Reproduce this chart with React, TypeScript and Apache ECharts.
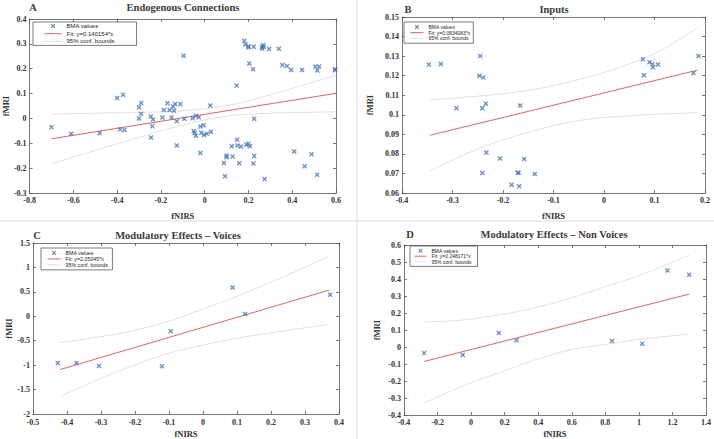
import React, { useEffect, useRef } from 'react';
import * as echarts from 'echarts';

// ---------- Panel A: Endogenous Connections ----------
const pointsA: number[][] = [
  [-0.70, -0.035], [-0.61, -0.062], [-0.48, -0.06], [-0.40, 0.082], [-0.373, 0.095], [-0.387, -0.044],
  [-0.367, -0.047], [-0.30, 0.045], [-0.29, 0.062], [-0.29, 0.019], [-0.30, 0.0], [-0.246, 0.008],
  [-0.236, -0.004], [-0.239, -0.031], [-0.245, -0.077], [-0.193, 0.004], [-0.187, 0.034], [-0.17, 0.061],
  [-0.16, 0.034], [-0.144, 0.048], [-0.14, 0.031], [-0.135, 0.058], [-0.151, 0.004], [-0.127, -0.011],
  [-0.111, 0.058], [-0.127, -0.109], [-0.096, 0.252], [-0.093, -0.001], [-0.055, 0.001], [-0.04, 0.011],
  [-0.027, 0.005], [-0.046, -0.059], [-0.04, -0.07], [-0.05, -0.051], [-0.02, -0.032], [-0.005, -0.027],
  [-0.02, -0.139], [-0.015, -0.058], [-0.003, -0.067], [0.01, -0.062], [0.029, -0.054], [0.026, 0.052],
  [0.088, -0.179], [0.093, -0.233], [0.10, -0.149], [0.10, -0.156], [0.124, -0.112], [0.128, -0.153],
  [0.146, 0.132], [0.148, -0.086], [0.15, -0.109], [0.166, -0.113], [0.158, -0.18], [0.181, 0.312],
  [0.186, 0.297], [0.20, 0.285], [0.20, 0.29], [0.224, 0.288], [0.19, -0.106], [0.20, -0.102],
  [0.207, -0.112], [0.204, 0.221], [0.221, 0.198], [0.226, -0.151], [0.223, -0.181], [0.226, -0.001],
  [0.262, 0.287], [0.263, 0.28], [0.267, 0.295], [0.27, 0.288], [0.274, -0.244], [0.294, 0.279],
  [0.339, 0.28], [0.355, 0.215], [0.376, 0.211], [0.395, 0.195], [0.409, -0.133], [0.445, 0.195],
  [0.457, -0.192], [0.488, -0.144], [0.506, 0.209], [0.515, 0.193], [0.523, 0.209], [0.514, -0.227],
  [0.596, 0.198], [0.596, 0.194],
];
const fitA: number[][] = [[-0.70, -0.082], [0.60, 0.101]];
const upperA: number[][] = [[-0.70, 0.018], [-0.5, 0.021], [-0.3, 0.024], [-0.1, 0.031], [0.1, 0.051], [0.3, 0.095], [0.5, 0.147], [0.6, 0.173]];
const lowerA: number[][] = [[-0.70, -0.182], [-0.5, -0.129], [-0.3, -0.076], [-0.1, -0.027], [0.1, 0.009], [0.3, 0.021], [0.5, 0.025], [0.6, 0.027]];

// ---------- Panel B: Inputs ----------
const pointsB: number[][] = [
  [-0.347, 0.1257], [-0.323, 0.126], [-0.292, 0.1033], [-0.245, 0.1301], [-0.247, 0.1199], [-0.239, 0.119],
  [-0.241, 0.1033], [-0.234, 0.1056], [-0.241, 0.0702], [-0.233, 0.0807], [-0.206, 0.0777], [-0.166, 0.1048],
  [-0.183, 0.0642], [-0.171, 0.0704], [-0.169, 0.0704], [-0.168, 0.0635], [-0.158, 0.0774], [-0.137, 0.0697],
  [0.077, 0.1284], [0.079, 0.1202], [0.09, 0.1269], [0.096, 0.1259], [0.097, 0.1243], [0.107, 0.1257],
  [0.177, 0.1214], [0.187, 0.1301],
];
const fitB: number[][] = [[-0.345, 0.0895], [0.185, 0.1228]];
const upperB: number[][] = [[-0.345, 0.1077], [-0.25, 0.1095], [-0.15, 0.1125], [-0.05, 0.118], [0.05, 0.126], [0.12, 0.134], [0.185, 0.1445]];
const lowerB: number[][] = [[-0.345, 0.0712], [-0.25, 0.0825], [-0.15, 0.091], [-0.05, 0.097], [0.05, 0.0995], [0.12, 0.1005], [0.185, 0.101]];

// ---------- Panel C: Modulatory Effects – Voices ----------
const pointsC: number[][] = [
  [-0.427, -0.955], [-0.372, -0.955], [-0.306, -1.015], [-0.121, -1.021], [-0.095, -0.307],
  [0.087, 0.587], [0.124, 0.047], [0.374, 0.441],
];
const fitC: number[][] = [[-0.42, -1.09], [0.37, 0.534]];
const upperC: number[][] = [[-0.42, -0.54], [-0.3, -0.415], [-0.2, -0.284], [-0.1, -0.1], [0, 0.15], [0.1, 0.41], [0.2, 0.7], [0.3, 1.003], [0.37, 1.23]];
const lowerC: number[][] = [[-0.42, -1.64], [-0.3, -1.273], [-0.2, -0.994], [-0.1, -0.756], [0, -0.59], [0.1, -0.45], [0.2, -0.34], [0.3, -0.235], [0.37, -0.17]];

// ---------- Panel D: Modulatory Effects – Non Voices ----------
const pointsD: number[][] = [
  [-0.28, -0.036], [-0.05, -0.047], [0.165, 0.083], [0.27, 0.04], [0.84, 0.036], [1.02, 0.019], [1.17, 0.45], [1.30, 0.425],
];
const fitD: number[][] = [[-0.28, -0.085], [1.30, 0.311]];
const upperD: number[][] = [[-0.28, 0.148], [-0.1, 0.155], [0, 0.165], [0.2, 0.195], [0.4, 0.235], [0.6, 0.29], [0.8, 0.355], [1.0, 0.42], [1.3, 0.54]];
const lowerD: number[][] = [[-0.28, -0.33], [-0.1, -0.25], [0, -0.21], [0.2, -0.14], [0.4, -0.07], [0.6, -0.015], [0.8, 0.015], [1.0, 0.045], [1.3, 0.075]];

const titles = ['Endogenous Connections', 'Inputs', 'Modulatory Effects \u2013 Voices', 'Modulatory Effects \u2013 Non Voices'];
const letters = ['A', 'B', 'C', 'D'];
const fitLabels = ['Fit: y=0.140154*x', 'Fit: y=0.0634083*x', 'Fit: y=2.05045*x', 'Fit: y=0.248171*x'];
const xName = 'fNIRS';
const yName = 'fMRI';
const pointsName = 'BMA values';
const boundsName = '95% conf. bounds';

const SERIF = '"Liberation Serif", "Times New Roman", serif';
const SANS = '"Liberation Sans", Arial, sans-serif';
const X_SYMBOL = 'path://M0,0L2.2,0L5,2.8L7.8,0L10,0L10,2.2L7.2,5L10,7.8L10,10L7.8,10L5,7.2L2.2,10L0,10L0,7.8L2.8,5L0,2.2Z';
const BLUE = '#4877bd';
const RED = '#e06464';
const BOUND = '#e6dede';
const AXIS = '#555';

const panels = [
  {
    points: pointsA, fit: fitA, upper: upperA, lower: lowerA,
    grid: { left: 29, top: 19, width: 307, height: 174 },
    x: { min: -0.8, max: 0.6, interval: 0.2 }, y: { min: -0.3, max: 0.4, interval: 0.1 },
    xGap: 18, yGap: 15, xMargin: 3,
    titlePos: [183, 7], letterPos: [33, 7],
    legend: { left: 33, top: 22, padding: [1, 22, 1, 11], itemWidth: 17, itemGap: 1.7, fontSize: 6, lh: 6 },
  },
  {
    points: pointsB, fit: fitB, upper: upperB, lower: lowerB,
    grid: { left: 402, top: 17, width: 303, height: 176 },
    x: { min: -0.4, max: 0.2, interval: 0.1 }, y: { min: 0.06, max: 0.15, interval: 0.01 },
    xGap: 18, yGap: 28, xMargin: 3,
    titlePos: [554, 9], letterPos: [408, 9],
    legend: { left: 404, top: 22, padding: [2.5, 3, 2.5, 6], itemWidth: 13, itemGap: 0.6, fontSize: 5, lh: 5 },
  },
  {
    points: pointsC, fit: fitC, upper: upperC, lower: lowerC,
    grid: { left: 33, top: 243, width: 306, height: 176 },
    x: { min: -0.5, max: 0.4, interval: 0.1 }, y: { min: -2, max: 1.5, interval: 0.5 },
    xGap: 15, yGap: 18, xMargin: 4,
    titlePos: [178, 235], letterPos: [37, 235],
    legend: { left: 41, top: 248, padding: [2.3, 4.5, 2.3, 6], itemWidth: 13, itemGap: 0.7, fontSize: 5.3, lh: 5.3 },
  },
  {
    points: pointsD, fit: fitD, upper: upperD, lower: lowerD,
    grid: { left: 404, top: 245, width: 302, height: 176 },
    x: { min: -0.4, max: 1.4, interval: 0.2 }, y: { min: -0.4, max: 0.6, interval: 0.1 },
    xGap: 14, yGap: 23, xMargin: 3,
    titlePos: [554, 234], letterPos: [410, 234],
    legend: { left: 410, top: 246, padding: [2.2, 6, 2.2, 4], itemWidth: 12, itemGap: 0.5, fontSize: 5, lh: 5 },
  },
];

function buildOption() {
  const grid: any[] = [];
  const xAxis: any[] = [];
  const yAxis: any[] = [];
  const series: any[] = [];
  const legend: any[] = [];
  const graphic: any[] = [];

  const labelStyle = { fontFamily: SERIF, fontSize: 8, color: '#333', fontWeight: 'bold' };
  const nameStyle = { fontFamily: SERIF, fontSize: 8.5, color: '#333', fontWeight: 'bold' };

  panels.forEach((p, i) => {
    grid.push({ ...p.grid, containLabel: false });
    const base = (r: any) => ({
      type: 'value', gridIndex: i, min: r.min, max: r.max, interval: r.interval,
      splitLine: { show: false },
      axisLine: { show: true, onZero: false, lineStyle: { color: AXIS, width: 0.8 } },
      axisTick: { show: true, inside: true, length: 3, lineStyle: { color: AXIS, width: 0.8 } },
    });
    xAxis.push({
      ...base(p.x), position: 'bottom',
      axisLabel: { ...labelStyle, margin: p.xMargin, showMinLabel: true, showMaxLabel: true },
      name: xName, nameLocation: 'middle', nameGap: p.xGap, nameTextStyle: nameStyle,
    });
    xAxis.push({ ...base(p.x), position: 'top', axisLabel: { show: false } });
    yAxis.push({
      ...base(p.y), position: 'left',
      axisLabel: { ...labelStyle, margin: 3, showMinLabel: true, showMaxLabel: true },
      name: yName, nameLocation: 'middle', nameGap: p.yGap, nameTextStyle: nameStyle,
    });
    yAxis.push({ ...base(p.y), position: 'right', axisLabel: { show: false } });

    const xi = 2 * i;
    const yi = 2 * i;
    series.push({
      type: 'line', name: boundsName, xAxisIndex: xi, yAxisIndex: yi, data: p.upper, smooth: 0.4,
      symbol: 'none', lineStyle: { color: BOUND, width: 1 }, itemStyle: { color: BOUND }, z: 1,
    });
    series.push({
      type: 'line', name: boundsName, xAxisIndex: xi, yAxisIndex: yi, data: p.lower, smooth: 0.4,
      symbol: 'none', lineStyle: { color: BOUND, width: 1 }, itemStyle: { color: BOUND }, z: 1,
    });
    series.push({
      type: 'line', name: fitLabels[i], xAxisIndex: xi, yAxisIndex: yi, data: p.fit,
      symbol: 'none', lineStyle: { color: RED, width: 1 }, itemStyle: { color: RED }, z: 2,
    });
    series.push({
      type: 'scatter', name: pointsName, xAxisIndex: xi, yAxisIndex: yi, data: p.points,
      symbol: X_SYMBOL, symbolSize: 4.5, itemStyle: { color: BLUE }, z: 3,
    });

    const L = p.legend;
    legend.push({
      show: true, orient: 'vertical', left: L.left, top: L.top, padding: L.padding,
      itemWidth: L.itemWidth, itemHeight: 4, itemGap: L.itemGap,
      backgroundColor: '#fff', borderColor: '#444', borderWidth: 0.7, borderRadius: 0,
      selectedMode: false,
      textStyle: { fontFamily: SANS, fontSize: L.fontSize, lineHeight: L.lh, color: '#222' },
      data: [
        { name: pointsName, icon: X_SYMBOL, itemStyle: { color: BLUE } },
        { name: fitLabels[i], itemStyle: { opacity: 0 }, lineStyle: { color: RED, width: 1 } },
        { name: boundsName, itemStyle: { opacity: 0 }, lineStyle: { color: BOUND, width: 1 } },
      ],
    });

    graphic.push({
      type: 'text', x: p.titlePos[0], y: p.titlePos[1], z: 10,
      style: {
        text: titles[i], fontFamily: SERIF, fontSize: 10.5, fontWeight: 'bold', fill: '#3a3a3a',
        textAlign: 'center', textVerticalAlign: 'middle', align: 'center', verticalAlign: 'middle',
      },
    });
    graphic.push({
      type: 'text', x: p.letterPos[0], y: p.letterPos[1], z: 10,
      style: {
        text: letters[i], fontFamily: SERIF, fontSize: 10.5, fontWeight: 'bold', fill: '#3a3a3a',
        textAlign: 'center', textVerticalAlign: 'middle', align: 'center', verticalAlign: 'middle',
      },
    });
  });

  graphic.push({ type: 'line', shape: { x1: 357, y1: 0, x2: 357, y2: 439 }, style: { stroke: '#dcdcdc', lineWidth: 1 }, z: 0 });
  graphic.push({ type: 'line', shape: { x1: 0, y1: 221, x2: 714, y2: 221 }, style: { stroke: '#dcdcdc', lineWidth: 1 }, z: 0 });

  return {
    animation: false,
    backgroundColor: '#fff',
    grid, xAxis, yAxis, series, legend, graphic,
  };
}

export default function App() {
  const ref = useRef<HTMLDivElement>(null);
  useEffect(() => {
    const chart = echarts.init(ref.current as HTMLDivElement, null, { renderer: 'svg' });
    chart.setOption(buildOption() as any);
    return () => chart.dispose();
  }, []);
  return (
    <div
      ref={ref}
      style={{ position: 'absolute', left: 0, top: 0, width: 714, height: 439, background: '#fff' }}
    />
  );
}
